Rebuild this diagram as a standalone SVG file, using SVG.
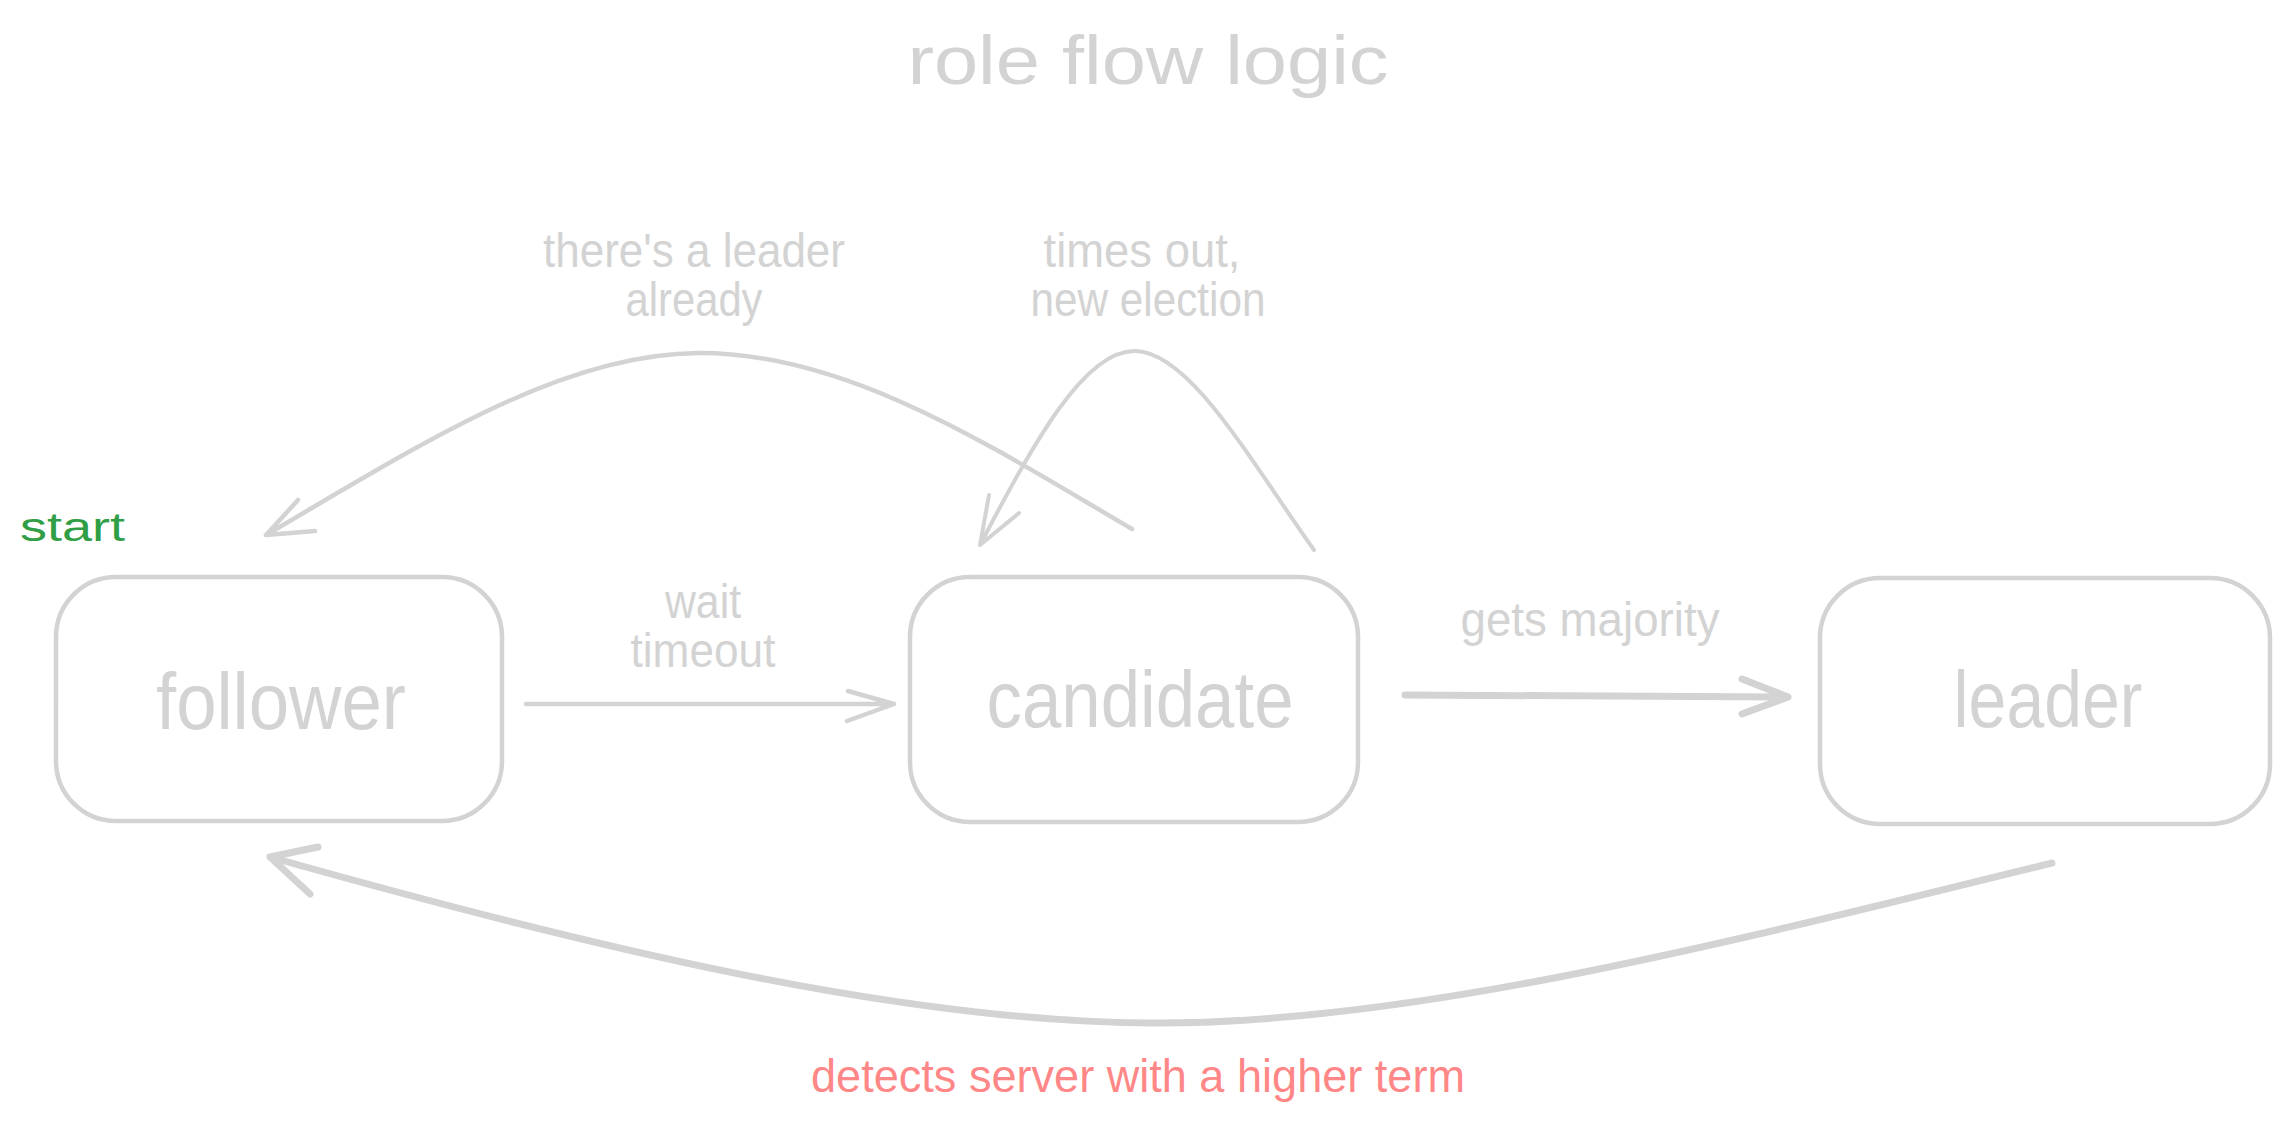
<svg xmlns="http://www.w3.org/2000/svg" width="2290" height="1124" viewBox="0 0 2290 1124">
<style>
.bg{fill:#ffffff}
.box{fill:none;stroke:#d3d3d3;stroke-width:4.5}
.ln{fill:none;stroke:#d3d3d3;stroke-linecap:round;stroke-linejoin:round}
.t{font-family:"Liberation Sans",Arial,sans-serif;fill:#d3d3d3;text-anchor:middle}
.nl{font-size:80px}
.el{font-size:48px}
</style>
<rect class="bg" x="0" y="0" width="2290" height="1124"/>
<text id="title" class="t" x="1148" y="84" font-size="68" textLength="481" lengthAdjust="spacingAndGlyphs">role flow logic</text>
<text id="start" x="20" y="541" font-family="'Liberation Sans',Arial,sans-serif" font-size="40" fill="#2f9e44" textLength="105" lengthAdjust="spacingAndGlyphs">start</text>
<g id="follower">
<rect class="box" x="56" y="577" width="446" height="244" rx="60"/>
<text class="t nl" x="281" y="729" textLength="250" lengthAdjust="spacingAndGlyphs">follower</text>
</g>
<g id="candidate">
<rect class="box" x="910" y="577" width="448" height="245" rx="60"/>
<text class="t nl" x="1140" y="727" textLength="307" lengthAdjust="spacingAndGlyphs">candidate</text>
</g>
<g id="leader">
<rect class="box" x="1820" y="578" width="450" height="246" rx="60"/>
<text class="t nl" x="2048" y="727" textLength="189" lengthAdjust="spacingAndGlyphs">leader</text>
</g>
<g id="connectors">
<path class="ln" stroke-width="4.5" d="M526,704 L894,704 M848,691 L894,704 L847,721"/>
<path class="ln" stroke-width="7" d="M1405,695 L1788,697 M1742,679 L1788,697 L1742,714"/>
<path class="ln" stroke-width="4.5" d="M1132,529 C1000,452 850,352 698,353 C560,354 420,445 266,535 M298,500 L266,535 L315,531"/>
<path class="ln" stroke-width="4" d="M1314,550 C1250,460 1190,352 1135,351 C1085,350 1035,440 980,545 M989,495 L980,545 L1019,513"/>
<path class="ln" stroke-width="7" d="M2052,863 C1700,950 1400,1025 1148,1023 C900,1021 600,950 270,857 M318,847 L270,857 L310,894"/>
</g>
<g id="labels">
<text class="t el" x="694" y="267" textLength="302" lengthAdjust="spacingAndGlyphs">there's a leader</text>
<text class="t el" x="694" y="316" textLength="137" lengthAdjust="spacingAndGlyphs">already</text>
<text class="t el" x="1142" y="267" textLength="197" lengthAdjust="spacingAndGlyphs">times out,</text>
<text class="t el" x="1148" y="316" textLength="235" lengthAdjust="spacingAndGlyphs">new election</text>
<text class="t el" x="703" y="618" textLength="76" lengthAdjust="spacingAndGlyphs">wait</text>
<text class="t el" x="703" y="667" textLength="145" lengthAdjust="spacingAndGlyphs">timeout</text>
<text class="t el" x="1590" y="636" textLength="259" lengthAdjust="spacingAndGlyphs">gets majority</text>
<text x="1138" y="1092" font-family="'Liberation Sans',Arial,sans-serif" font-size="46" fill="#ff8787" text-anchor="middle" textLength="654" lengthAdjust="spacingAndGlyphs">detects server with a higher term</text>
</g>
</svg>
